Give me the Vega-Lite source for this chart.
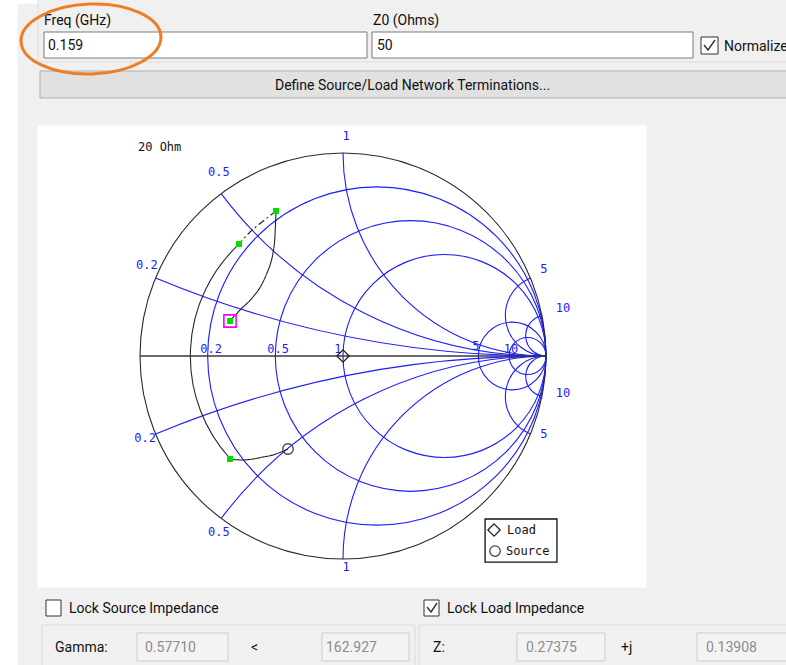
{
  "$schema": "https://vega.github.io/schema/vega-lite/v6.json",
  "width": 786,
  "height": 665,
  "autosize": "none",
  "padding": 0,
  "background": "#ffffff",
  "config": {"view": {"stroke": null}},
  "datasets": {
    "boxes": [
      {"kind": "window", "x": 18, "y": 4, "x2": 786, "y2": 665},
      {"kind": "group", "x": 38, "y": -2, "x2": 790, "y2": 62},
      {"kind": "input", "x": 44, "y": 32, "x2": 367, "y2": 58},
      {"kind": "input", "x": 372, "y": 32, "x2": 693, "y2": 58},
      {"kind": "check", "x": 701, "y": 37, "x2": 718, "y2": 54},
      {"kind": "button", "x": 40, "y": 71, "x2": 790, "y2": 98},
      {"kind": "panel", "x": 38, "y": 126, "x2": 646, "y2": 587},
      {"kind": "check", "x": 46, "y": 600, "x2": 61, "y2": 616},
      {"kind": "check", "x": 424, "y": 600, "x2": 439, "y2": 616},
      {"kind": "group", "x": 42, "y": 625, "x2": 415, "y2": 672},
      {"kind": "group", "x": 419, "y": 625, "x2": 790, "y2": 672},
      {"kind": "disabled", "x": 137, "y": 633, "x2": 228, "y2": 661},
      {"kind": "disabled", "x": 322, "y": 633, "x2": 409, "y2": 661},
      {"kind": "disabled", "x": 517, "y": 633, "x2": 605, "y2": 661},
      {"kind": "disabled", "x": 697, "y": 633, "x2": 790, "y2": 661}
    ],
    "checks": [
      {"box": "normalize", "i": 0, "x": 704, "y": 45},
      {"box": "normalize", "i": 1, "x": 708, "y": 50},
      {"box": "normalize", "i": 2, "x": 715, "y": 40},
      {"box": "lockLoad", "i": 0, "x": 427, "y": 607},
      {"box": "lockLoad", "i": 1, "x": 431, "y": 612},
      {"box": "lockLoad", "i": 2, "x": 437, "y": 603}
    ],
    "uiText": [
      {"label": "Freq (GHz)", "x": 44, "y": 25, "kind": "text"},
      {"label": "0.159", "x": 48, "y": 50, "kind": "text"},
      {"label": "Z0 (Ohms)", "x": 373, "y": 25, "kind": "text"},
      {"label": "50", "x": 377, "y": 50, "kind": "text"},
      {"label": "Normalize", "x": 724, "y": 51, "kind": "text"},
      {"label": "Define Source/Load Network Terminations...", "x": 275, "y": 90, "kind": "text"},
      {"label": "Lock Source Impedance", "x": 69, "y": 613, "kind": "text"},
      {"label": "Lock Load Impedance", "x": 447, "y": 613, "kind": "text"},
      {"label": "Gamma:", "x": 55, "y": 652, "kind": "text"},
      {"label": "0.57710", "x": 145, "y": 652, "kind": "muted"},
      {"label": "<", "x": 251, "y": 652, "kind": "text"},
      {"label": "162.927", "x": 326, "y": 652, "kind": "muted"},
      {"label": "Z:", "x": 433, "y": 652, "kind": "text"},
      {"label": "0.27375", "x": 526, "y": 652, "kind": "muted"},
      {"label": "+j", "x": 621, "y": 652, "kind": "text"},
      {"label": "0.13908", "x": 706, "y": 652, "kind": "muted"}
    ],
    "highlight": [{"x": 91, "y": 39}],
    "gridArcs": [
      {"gx": 0.166667, "gy": 0, "rad": 0.833333, "t0": 0, "t1": 6.283185},
      {"gx": 0.333333, "gy": 0, "rad": 0.666667, "t0": 0, "t1": 6.283185},
      {"gx": 0.5, "gy": 0, "rad": 0.5, "t0": 0, "t1": 6.283185},
      {"gx": 0.833333, "gy": 0, "rad": 0.166667, "t0": 0, "t1": 6.283185},
      {"gx": 0.909091, "gy": 0, "rad": 0.090909, "t0": 0, "t1": 6.283185},
      {"gx": 1, "gy": 5, "rad": 5, "t0": 3.141593, "t1": 3.536384},
      {"gx": 1, "gy": -5, "rad": 5, "t0": 5.888394, "t1": 6.283185},
      {"gx": 1, "gy": 2, "rad": 2, "t0": 3.141593, "t1": 4.068888},
      {"gx": 1, "gy": -2, "rad": 2, "t0": 5.35589, "t1": 6.283185},
      {"gx": 1, "gy": 1, "rad": 1, "t0": 3.141593, "t1": 4.712389},
      {"gx": 1, "gy": -1, "rad": 1, "t0": 4.712389, "t1": 6.283185},
      {"gx": 1, "gy": 0.2, "rad": 0.2, "t0": 3.141593, "t1": 5.888394},
      {"gx": 1, "gy": -0.2, "rad": 0.2, "t0": 3.536383, "t1": 6.283185},
      {"gx": 1, "gy": 0.1, "rad": 0.1, "t0": 3.141593, "t1": 6.082851},
      {"gx": 1, "gy": -0.1, "rad": 0.1, "t0": 3.341928, "t1": 6.283185}
    ],
    "outlineArcs": [
      {"gx": 0, "gy": 0, "rad": 1, "t0": 0, "t1": 6.283185},
      {"gx": 0, "gy": 0, "rad": 0.752, "t0": 3.974, "t1": 5.534}
    ],
    "realAxis": [{"gx": -1, "gx2": 1, "gy": 0}],
    "legendBox": [{"gx": 0.7, "gx2": 1.054, "gy": -0.803, "gy2": -1.015}],
    "paths": [
      {"seg": "A", "i": 0, "gx": -0.5567, "gy": 0.1724},
      {"seg": "A", "i": 1, "gx": -0.5074, "gy": 0.2266},
      {"seg": "A", "i": 2, "gx": -0.4433, "gy": 0.2906},
      {"seg": "A", "i": 3, "gx": -0.399, "gy": 0.3547},
      {"seg": "A", "i": 4, "gx": -0.3744, "gy": 0.4089},
      {"seg": "A", "i": 5, "gx": -0.3547, "gy": 0.4631},
      {"seg": "A", "i": 6, "gx": -0.3448, "gy": 0.5074},
      {"seg": "A", "i": 7, "gx": -0.335, "gy": 0.5961},
      {"seg": "A", "i": 8, "gx": -0.33, "gy": 0.7143},
      {"seg": "B", "i": 0, "gx": -0.33, "gy": 0.7143},
      {"seg": "B", "i": 1, "gx": -0.399, "gy": 0.6601},
      {"seg": "B", "i": 2, "gx": -0.4581, "gy": 0.6108},
      {"seg": "B", "i": 3, "gx": -0.5123, "gy": 0.5517},
      {"seg": "D", "i": 0, "gx": -0.5567, "gy": -0.5074},
      {"seg": "D", "i": 1, "gx": -0.4975, "gy": -0.5123},
      {"seg": "D", "i": 2, "gx": -0.4433, "gy": -0.5074},
      {"seg": "D", "i": 3, "gx": -0.3941, "gy": -0.4975},
      {"seg": "D", "i": 4, "gx": -0.3448, "gy": -0.4877},
      {"seg": "D", "i": 5, "gx": -0.3054, "gy": -0.4729},
      {"seg": "D", "i": 6, "gx": -0.2709, "gy": -0.4581}
    ],
    "gridLabels": [
      {"text": "0.2", "gx": -0.65, "gy": 0.034},
      {"text": "0.5", "gx": -0.32, "gy": 0.034},
      {"text": "1", "gx": -0.025, "gy": 0.034},
      {"text": "5", "gx": 0.655, "gy": 0.049},
      {"text": "10", "gx": 0.828, "gy": 0.034},
      {"text": "1", "gx": 0.015, "gy": 1.084},
      {"text": "0.5", "gx": -0.611, "gy": 0.906},
      {"text": "0.2", "gx": -0.966, "gy": 0.448},
      {"text": "5", "gx": 0.99, "gy": 0.429},
      {"text": "10", "gx": 1.084, "gy": 0.236},
      {"text": "10", "gx": 1.084, "gy": -0.182},
      {"text": "5", "gx": 0.99, "gy": -0.384},
      {"text": "0.2", "gx": -0.975, "gy": -0.404},
      {"text": "0.5", "gx": -0.611, "gy": -0.867},
      {"text": "1", "gx": 0.015, "gy": -1.039}
    ],
    "chartText": [
      {"text": "20 Ohm", "gx": -1.01, "gy": 1.03},
      {"text": "Load", "gx": 0.808, "gy": -0.857},
      {"text": "Source", "gx": 0.803, "gy": -0.961}
    ],
    "stubs": [
      {"gx": -0.33, "gy": 0.7143},
      {"gx": -0.5123, "gy": 0.5517},
      {"gx": -0.5567, "gy": -0.5074},
      {"gx": -0.5567, "gy": 0.1724}
    ],
    "startPoint": [{"gx": -0.5567, "gy": 0.1724}],
    "loadMarks": [
      {"gx": 0, "gy": 0},
      {"gx": 0.744, "gy": -0.857}
    ],
    "sourceMarks": [
      {"gx": -0.2709, "gy": -0.4581},
      {"gx": 0.749, "gy": -0.961}
    ]
  },
  "layer": [
    {
      "encoding": {
        "x": {"field": "x", "type": "quantitative", "axis": null,
              "scale": {"domain": [0, 786], "range": [0, 786], "nice": false, "zero": false}},
        "y": {"field": "y", "type": "quantitative", "axis": null,
              "scale": {"domain": [0, 665], "range": [0, 665], "nice": false, "zero": false}}
      },
      "layer": [
        {
          "data": {"name": "boxes"},
          "mark": {"type": "rect", "strokeWidth": 1},
          "encoding": {
            "x2": {"field": "x2"},
            "y2": {"field": "y2"},
            "fill": {"field": "kind", "type": "nominal", "legend": null,
                     "scale": {"domain": ["window", "group", "input", "check", "button", "panel", "disabled"],
                               "range": ["#f0f0f0", "#f0f0f0", "#ffffff", "#ffffff", "#e1e1e1", "#ffffff", "#f3f3f3"]}},
            "stroke": {"field": "kind", "type": "nominal", "legend": null,
                       "scale": {"domain": ["window", "group", "input", "check", "button", "panel", "disabled"],
                                 "range": ["#f0f0f0", "#dcdcdc", "#7a7a7a", "#333333", "#adadad", "#ffffff", "#cccccc"]}}
          }
        },
        {
          "data": {"name": "checks"},
          "mark": {"type": "line", "stroke": "#333333", "strokeWidth": 1.4},
          "encoding": {
            "detail": {"field": "box", "type": "nominal"},
            "order": {"field": "i", "type": "quantitative"}
          }
        },
        {
          "data": {"name": "uiText"},
          "mark": {"type": "text", "align": "left", "baseline": "alphabetic", "font": "Roboto", "fontSize": 14},
          "encoding": {
            "text": {"field": "label"},
            "color": {"field": "kind", "type": "nominal", "legend": null,
                      "scale": {"domain": ["text", "muted"], "range": ["#111111", "#8c8c8c"]}}
          }
        },
        {
          "data": {"name": "highlight"},
          "mark": {"type": "point", "shape": "M-1,0A1,0.5,0,1,1,1,0A1,0.5,0,1,1,-1,0Z",
                   "size": 19600, "filled": false, "stroke": "#ef7d22", "strokeWidth": 3, "angle": -2, "opacity": 1}
        }
      ]
    },
    {
      "encoding": {
        "x": {"field": "gx", "type": "quantitative", "axis": null,
              "scale": {"domain": [-1, 1], "range": [140, 546], "nice": false, "zero": false}},
        "y": {"field": "gy", "type": "quantitative", "axis": null,
              "scale": {"domain": [-1, 1], "range": [559, 153], "nice": false, "zero": false}}
      },
      "layer": [
        {
          "data": {"name": "legendBox"},
          "mark": {"type": "rect", "fill": "#ffffff", "stroke": "#111111", "strokeWidth": 1.3},
          "encoding": {"x2": {"field": "gx2"}, "y2": {"field": "gy2"}}
        },
        {
          "data": {"name": "gridArcs"},
          "mark": {"type": "arc", "filled": false, "stroke": "#1c1cff", "strokeWidth": 1.1},
          "encoding": {
            "theta": {"field": "t0", "type": "quantitative", "stack": null,
                      "scale": {"type": "linear", "domain": [0, 6.283185], "range": [0, 6.283185], "nice": false}},
            "theta2": {"field": "t1"},
            "radius": {"field": "rad", "type": "quantitative",
                       "scale": {"type": "linear", "domain": [0, 1], "range": [0, 203], "nice": false, "zero": true}},
            "radius2": {"field": "rad"}
          }
        },
        {
          "data": {"name": "outlineArcs"},
          "mark": {"type": "arc", "filled": false, "stroke": "#2a2a2a", "strokeWidth": 1.1},
          "encoding": {
            "theta": {"field": "t0", "type": "quantitative", "stack": null},
            "theta2": {"field": "t1"},
            "radius": {"field": "rad", "type": "quantitative"},
            "radius2": {"field": "rad"}
          }
        },
        {
          "data": {"name": "realAxis"},
          "mark": {"type": "rule", "stroke": "#3a3a3a", "strokeWidth": 1.5},
          "encoding": {"x2": {"field": "gx2"}}
        },
        {
          "data": {"name": "paths"},
          "mark": {"type": "line", "stroke": "#222222", "strokeWidth": 1.1, "interpolate": "monotone"},
          "encoding": {
            "detail": {"field": "seg", "type": "nominal"},
            "order": {"field": "i", "type": "quantitative"},
            "strokeDash": {"field": "seg", "type": "nominal", "legend": null,
                           "scale": {"domain": ["A", "B", "D"], "range": [[1, 0], [7, 3, 2, 3], [1, 0]]}}
          }
        },
        {
          "data": {"name": "gridLabels"},
          "mark": {"type": "text", "align": "center", "baseline": "middle", "font": "DejaVu Sans Mono", "fontSize": 12, "fill": "#1c1cff"},
          "encoding": {"text": {"field": "text"}}
        },
        {
          "data": {"name": "chartText"},
          "mark": {"type": "text", "align": "left", "baseline": "middle", "font": "DejaVu Sans Mono", "fontSize": 12, "fill": "#111111"},
          "encoding": {"text": {"field": "text"}}
        },
        {
          "data": {"name": "startPoint"},
          "mark": {"type": "point", "shape": "square", "size": 150, "filled": false, "stroke": "#ff00ff", "strokeWidth": 1.6, "opacity": 1}
        },
        {
          "data": {"name": "stubs"},
          "mark": {"type": "point", "shape": "square", "size": 36, "filled": true, "fill": "#00dd00", "strokeWidth": 0, "opacity": 1}
        },
        {
          "data": {"name": "loadMarks"},
          "mark": {"type": "point", "shape": "diamond", "size": 150, "filled": false, "stroke": "#222222", "strokeWidth": 1.3, "opacity": 1}
        },
        {
          "data": {"name": "sourceMarks"},
          "mark": {"type": "point", "shape": "circle", "size": 110, "filled": false, "stroke": "#444444", "strokeWidth": 1.3, "opacity": 1}
        }
      ]
    }
  ],
  "resolve": {"scale": {"x": "independent", "y": "independent"}}
}
